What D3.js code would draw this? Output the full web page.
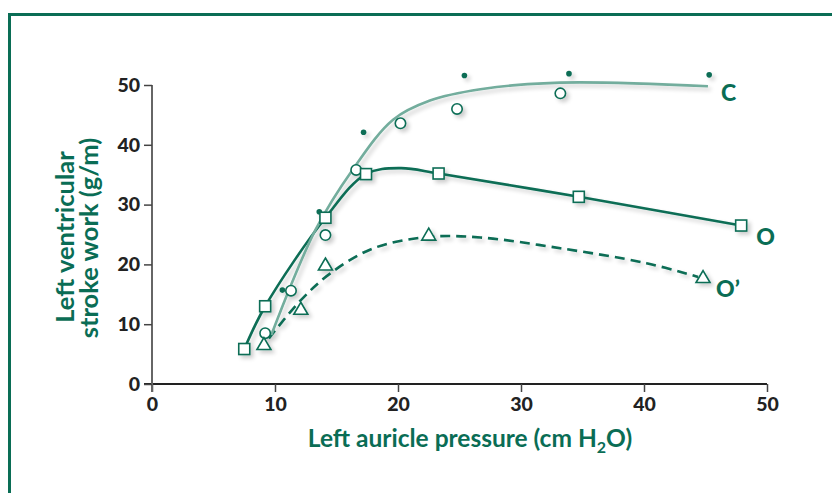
<!DOCTYPE html>
<html>
<head>
<meta charset="utf-8">
<script src="https://cdn.jsdelivr.net/npm/d3@7"></script>
<style>
  body { margin: 0; background: #fff; }
  svg text { font-family: Lato, "Open Sans", sans-serif; font-weight: 700; }
</style>
</head>
<body>
<svg id="chart"></svg>
<script>
// measured points
let cCircles = [[9.2, 8.5], [11.3, 15.6], [14.1, 24.9], [16.6, 35.8], [20.2, 43.6], [24.8, 46.0], [33.2, 48.6]];
let cDots = [[10.6, 15.7], [13.6, 28.8], [17.2, 42.1], [25.4, 51.6], [33.9, 51.9], [45.3, 51.7]];
let oSquares = [[7.5, 5.85], [9.2, 13.0], [14.1, 27.8], [17.4, 35.1], [23.3, 35.2], [34.7, 31.3], [47.9, 26.5]];
let oPrimeTriangles = [[9.1, 6.6], [12.1, 12.5], [14.1, 19.9], [22.5, 24.9], [44.8, 17.8]];

// fitted curves as drawn in the picture
let cCurve = [[9.7, 8.2], [13.3, 25.8], [16.3, 35.8], [19.6, 44.2], [22.6, 47.4], [26.7, 49.3], [33.2, 50.4], [45.2, 49.8]];
let oCurve = [[7.6, 6.3], [9.2, 13.0], [14.1, 27.8], [17.4, 35.1], [20.2, 36.1], [23.3, 35.2], [34.7, 31.3], [47.9, 26.5]];
let oPrimeCurve = [[9.5, 7.6], [12.0, 13.8], [14.5, 18.5], [18.0, 22.7], [22.5, 24.6], [26.7, 24.5], [33.2, 22.7], [40.2, 20.2], [44.4, 17.9]];

let xTicks = [0, 10, 20, 30, 40, 50];
let yTicks = [0, 10, 20, 30, 40, 50];
let seriesLabels = [{ name: "C", x: 45.2, y: 49.8 }, { name: "O", x: 47.9, y: 26.5 }, { name: "O’", x: 44.8, y: 17.8 }];

let green = "#0a6d55";
let lightGreen = "#73ad9d";

let svg = d3.select("svg#chart").attr("width", 832).attr("height", 493);

let defs = svg.append("defs");
let shadow = defs.append("filter").attr("id", "shadow").attr("x", "-50%").attr("y", "-50%").attr("width", "200%").attr("height", "200%");
shadow.append("feGaussianBlur").attr("in", "SourceAlpha").attr("stdDeviation", 2.2);
shadow.append("feOffset").attr("dx", 3).attr("dy", 3).attr("result", "off");
shadow.append("feComponentTransfer").append("feFuncA").attr("type", "linear").attr("slope", 0.2);
let merge = shadow.append("feMerge");
merge.append("feMergeNode");
merge.append("feMergeNode").attr("in", "SourceGraphic");

// frame
svg.append("path").attr("d", "M9.5,493 L9.5,14.5 L832,14.5")
  .attr("fill", "none").attr("stroke", green).attr("stroke-width", 3);

let xScale = d3.scaleLinear().domain([0, 50]).range([152, 767]);
let yScale = d3.scaleLinear().domain([0, 50]).range([384, 85]);

let xAxis = d3.axisBottom(xScale).tickValues(xTicks).tickSize(8).tickPadding(5).tickSizeOuter(0);
let yAxis = d3.axisLeft(yScale).tickValues(yTicks).tickSize(8).tickPadding(4).tickSizeOuter(0);

let gx = svg.append("g").attr("transform", "translate(0," + yScale(0) + ")").call(xAxis);
let gy = svg.append("g").attr("transform", "translate(" + xScale(0) + ",0)").call(yAxis);
gx.select(".domain").attr("d", "M" + (xScale(0) - 8) + ",0H" + xScale(50)).attr("stroke", "#222").attr("stroke-width", 2);
gy.select(".domain").attr("d", "M0," + yScale(50) + "V" + (yScale(0) + 8)).attr("stroke", "#666").attr("stroke-width", 2);
svg.selectAll(".tick line").attr("stroke", "#444").attr("stroke-width", 1.5);
svg.selectAll(".tick text").attr("fill", "#222").style("font-size", "19.5px").style("font-weight", 900);

let line = d3.line().x(d => xScale(d[0])).y(d => yScale(d[1])).curve(d3.curveCatmullRom.alpha(0.5));

let plot = svg.append("g").attr("filter", "url(#shadow)");

plot.append("path").datum(oPrimeCurve).attr("d", line)
  .attr("fill", "none").attr("stroke", green).attr("stroke-width", 2.6).attr("stroke-dasharray", "10,6");
plot.append("path").datum(oCurve).attr("d", line)
  .attr("fill", "none").attr("stroke", green).attr("stroke-width", 2.6);
plot.append("path").datum(cCurve).attr("d", line)
  .attr("fill", "none").attr("stroke", lightGreen).attr("stroke-width", 2.6);

plot.selectAll(".dot").data(cDots).enter().append("circle")
  .attr("cx", d => xScale(d[0])).attr("cy", d => yScale(d[1])).attr("r", 2.8).attr("fill", green);

plot.selectAll(".circ").data(cCircles).enter().append("circle")
  .attr("cx", d => xScale(d[0])).attr("cy", d => yScale(d[1])).attr("r", 5.2)
  .attr("fill", "#fff").attr("stroke", green).attr("stroke-width", 1.6);

plot.selectAll(".sq").data(oSquares).enter().append("rect")
  .attr("x", d => xScale(d[0]) - 5.5).attr("y", d => yScale(d[1]) - 5.5)
  .attr("width", 11).attr("height", 11)
  .attr("fill", "#fff").attr("stroke", green).attr("stroke-width", 1.6);

plot.selectAll(".tri").data(oPrimeTriangles).enter().append("path")
  .attr("d", d => {
    let cx = xScale(d[0]), cy = yScale(d[1]);
    return "M" + cx + "," + (cy - 7) + "L" + (cx + 7) + "," + (cy + 5) + "L" + (cx - 7) + "," + (cy + 5) + "Z";
  })
  .attr("fill", "#fff").attr("stroke", green).attr("stroke-width", 1.6).attr("stroke-linejoin", "miter");

svg.selectAll(".slabel").data(seriesLabels).enter().append("text")
  .attr("x", d => xScale(d.x) + (d.name === "O" ? 15 : 13))
  .attr("y", d => yScale(d.y) + (d.name === "C" ? 15 : 19))
  .attr("fill", green).style("font-size", "23px").style("font-weight", 900)
  .text(d => d.name);

// axis titles
let xt = svg.append("text").attr("x", 470).attr("y", 447).attr("text-anchor", "middle")
  .attr("fill", green).style("font-size", "24.5px");
xt.append("tspan").text("Left auricle pressure (cm H");
xt.append("tspan").attr("dy", 6).style("font-size", "16px").text("2");
xt.append("tspan").attr("dy", -6).text("O)");

let yt = svg.append("text").attr("transform", "rotate(-90)")
  .attr("text-anchor", "middle").attr("fill", green).style("font-size", "25.5px");
yt.append("tspan").attr("x", -237).attr("y", 74).text("Left ventricular");
yt.append("tspan").attr("x", -238).attr("y", 98).text("stroke work (g/m)");
</script>
</body>
</html>
